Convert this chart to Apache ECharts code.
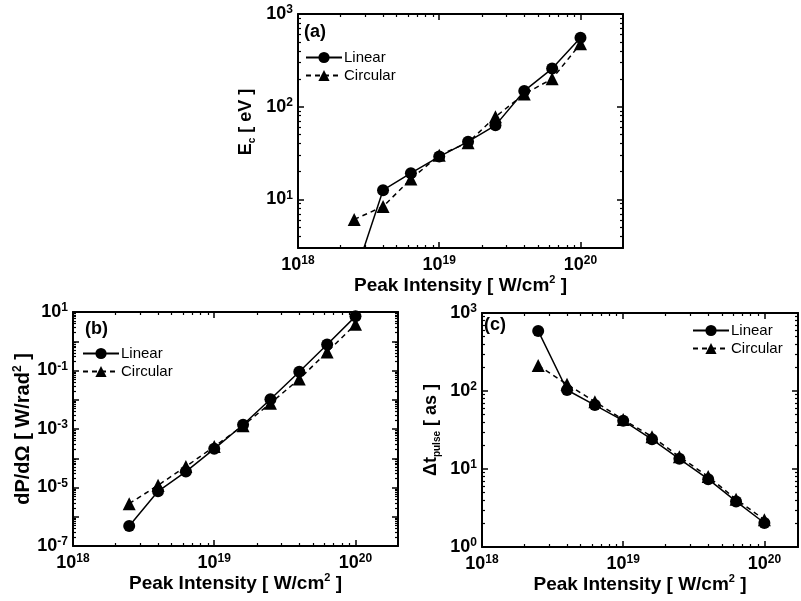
<!DOCTYPE html>
<html>
<head>
<meta charset="utf-8">
<script src="https://cdn.jsdelivr.net/npm/echarts@6/dist/echarts.min.js"></script>
<style>
  html, body { margin: 0; padding: 0; background: #fff; }
  #chart { width: 801px; height: 601px; }
</style>
</head>
<body>
<div id="chart"></div>
<script>
// peak intensity in W/cm^2, shared by the three panels
const intensity = [2.5e18, 4e18, 6.3e18, 1e19, 1.6e19, 2.5e19, 4e19, 6.3e19, 1e20];

// (a) cutoff energy E_c [eV]
const cutoffLinear = [1.45, 12.6, 19.2, 29, 42, 63, 148, 258, 553];
const cutoffCircular = [6.1, 8.4, 16.6, 30, 41, 78, 137, 200, 477];

// (b) dP/dOmega [W/rad^2]
const powerLinear = [4.8e-7, 7.4e-6, 3.5e-5, 2.1e-4, 1.4e-3, 1.04e-2, 9.1e-2, 0.77, 7.1];
const powerCircular = [2.8e-6, 1.19e-5, 5.2e-5, 2.5e-4, 1.3e-3, 7.6e-3, 5.1e-2, 0.43, 3.8];

// (c) pulse duration [as]
const durationLinear = [589, 103, 66, 41.6, 24, 13.5, 7.4, 3.84, 2.03];
const durationCircular = [212, 122, 73, 43, 26, 14.4, 8.0, 4.1, 2.24];

// decade exponents used for ticks / labels
const xDecades = [18, 19, 20];
const cutoffDecades = [1, 2, 3];
const powerDecades = [-7, -6, -5, -4, -3, -2, -1, 0, 1];
const powerLabels = [-7, -5, -3, -1, 1];
const durationDecades = [0, 1, 2, 3];

const FONT = "Liberation Sans, Arial, sans-serif";
const INK = "#000";

const panels = [
  {
    tag: "(a)", tagPos: [304, 23],
    grid: { left: 298, top: 14, width: 325, height: 234 },
    xMax: 2e20, yMin: 3, yMax: 1000,
    yMajor: cutoffDecades, yLabels: cutoffDecades,
    yName: "{b|E}{sub|c}{b| [ eV ]}", yNameGap: 41, yNameSize: 18, yNameShift: 18,
    legend: { left: 305, top: 50 },
    linear: cutoffLinear, circular: cutoffCircular
  },
  {
    tag: "(b)", tagPos: [85, 320],
    grid: { left: 73, top: 312, width: 325, height: 234 },
    xMax: 2e20, yMin: 1e-7, yMax: 10,
    yMajor: powerDecades, yLabels: powerLabels,
    yName: "{b|dP/dΩ [ W/rad}{sup|2}{b| ]}", yNameGap: 37, yNameSize: 20, yNameShift: 0,
    legend: { left: 82, top: 346 },
    linear: powerLinear, circular: powerCircular
  },
  {
    tag: "(c)", tagPos: [484, 316],
    grid: { left: 482, top: 313, width: 316, height: 234 },
    xMax: 1.73e20, yMin: 1, yMax: 1000,
    yMajor: durationDecades, yLabels: durationDecades,
    yName: "{b|Δt}{sub|pulse}{b| [ as ]}", yNameGap: 40, yNameSize: 18, yNameShift: 0,
    legend: { left: 692, top: 323 },
    linear: durationLinear, circular: durationCircular
  }
];

function minorTicks(lo, hi) {
  const out = [];
  for (let d = Math.floor(lo); d < Math.ceil(hi); d++) {
    for (let k = 2; k <= 9; k++) {
      const v = d + Math.log10(k);
      if (v > lo && v < hi) out.push(v);
    }
  }
  return out;
}

const powRich = {
  b: { fontFamily: FONT, fontSize: 18, fontWeight: "bold", color: INK, lineHeight: 20 },
  s: { fontFamily: FONT, fontSize: 12, fontWeight: "bold", color: INK, lineHeight: 11, verticalAlign: "top" }
};

function nameRich(size) {
  return {
    b: { fontFamily: FONT, fontSize: size, fontWeight: "bold", color: INK, lineHeight: size + 3 },
    sup: { fontFamily: FONT, fontSize: Math.round(size * 0.6), fontWeight: "bold", color: INK, lineHeight: Math.round(size * 0.65), verticalAlign: "top" },
    sub: { fontFamily: FONT, fontSize: Math.round(size * 0.58), fontWeight: "bold", color: INK, lineHeight: Math.round(size * 0.6), verticalAlign: "bottom" }
  };
}

function powLabel(v) {
  return "{b|10}{s|" + Math.round(v) + "}";
}

// value axis in log10 space that only draws frame, ticks and labels
function frameAxis(gridIndex, position, lo, hi, ticks, opts) {
  return Object.assign({
    type: "value",
    gridIndex: gridIndex,
    position: position,
    min: lo,
    max: hi,
    axisLine: { show: true, onZero: false, lineStyle: { color: INK, width: 2 } },
    axisTick: { show: true, inside: true, length: 6, customValues: ticks, lineStyle: { color: INK, width: 1.5 } },
    axisLabel: { show: false },
    splitLine: { show: false }
  }, opts || {});
}

function minorAxis(gridIndex, position, lo, hi) {
  return {
    type: "value",
    gridIndex: gridIndex,
    position: position,
    min: lo,
    max: hi,
    axisLine: { show: false, onZero: false },
    axisTick: { show: true, inside: true, length: 3, customValues: minorTicks(lo, hi), lineStyle: { color: INK, width: 1.2 } },
    axisLabel: { show: false },
    splitLine: { show: false }
  };
}

const grids = [];
const xAxes = [];
const yAxes = [];
const series = [];
const legends = [];
const graphics = [];

panels.forEach((p, i) => {
  grids.push(Object.assign({ containLabel: false }, p.grid));
  const x0 = 18, x1 = Math.log10(p.xMax);
  const y0 = Math.log10(p.yMin), y1 = Math.log10(p.yMax);
  const base = xAxes.length;

  xAxes.push({ type: "log", gridIndex: i, min: 1e18, max: p.xMax, show: false });
  xAxes.push(frameAxis(i, "bottom", x0, x1, xDecades, {
    axisLabel: {
      show: true, customValues: xDecades, margin: 7,
      formatter: powLabel, rich: powRich
    },
    name: "{b|Peak Intensity [ W/cm}{sup|2}{b| ]}",
    nameLocation: "middle",
    nameGap: 24,
    nameTextStyle: { rich: nameRich(19) }
  }));
  xAxes.push(minorAxis(i, "bottom", x0, x1));
  xAxes.push(frameAxis(i, "top", x0, x1, xDecades));
  xAxes.push(minorAxis(i, "top", x0, x1));

  yAxes.push({ type: "log", gridIndex: i, min: p.yMin, max: p.yMax, show: false });
  yAxes.push(frameAxis(i, "left", y0, y1, p.yMajor, {
    axisLabel: {
      show: true, customValues: p.yLabels, margin: 5,
      formatter: powLabel, rich: powRich
    },
    name: p.yName,
    nameLocation: "middle",
    nameGap: p.yNameGap,
    nameTextStyle: { rich: nameRich(p.yNameSize), padding: [0, 0, 0, p.yNameShift] }
  }));
  yAxes.push(minorAxis(i, "left", y0, y1));
  yAxes.push(frameAxis(i, "right", y0, y1, p.yMajor));
  yAxes.push(minorAxis(i, "right", y0, y1));

  series.push({
    name: "Linear",
    type: "line",
    xAxisIndex: base,
    yAxisIndex: base,
    data: intensity.map((x, k) => [x, p.linear[k]]),
    symbol: "circle",
    symbolSize: 12,
    itemStyle: { color: INK },
    lineStyle: { color: INK, width: 1.5, type: "solid" },
    clip: true,
    animation: false,
    z: 3
  });
  series.push({
    name: "Circular",
    type: "line",
    xAxisIndex: base,
    yAxisIndex: base,
    data: intensity.map((x, k) => [x, p.circular[k]]),
    symbol: "triangle",
    symbolSize: 13,
    itemStyle: { color: INK },
    lineStyle: { color: INK, width: 1.5, type: [5, 4] },
    clip: true,
    animation: false,
    z: 2
  });

  legends.push({
    left: p.legend.left,
    top: p.legend.top,
    padding: 0,
    orient: "vertical",
    data: ["Linear", "Circular"],
    itemWidth: 36,
    itemHeight: 14,
    itemGap: 3,
    selectedMode: false,
    textStyle: { fontFamily: FONT, fontSize: 15, color: INK, padding: [0, 0, 0, -3] }
  });

  graphics.push({
    type: "text",
    left: p.tagPos[0],
    top: p.tagPos[1],
    style: { text: p.tag, font: "bold 18px " + FONT, fill: INK }
  });
});

const chart = echarts.init(document.getElementById("chart"), null, { renderer: "canvas" });
chart.setOption({
  backgroundColor: "#fff",
  animation: false,
  grid: grids,
  xAxis: xAxes,
  yAxis: yAxes,
  legend: legends,
  series: series,
  graphic: graphics
});
</script>
</body>
</html>
